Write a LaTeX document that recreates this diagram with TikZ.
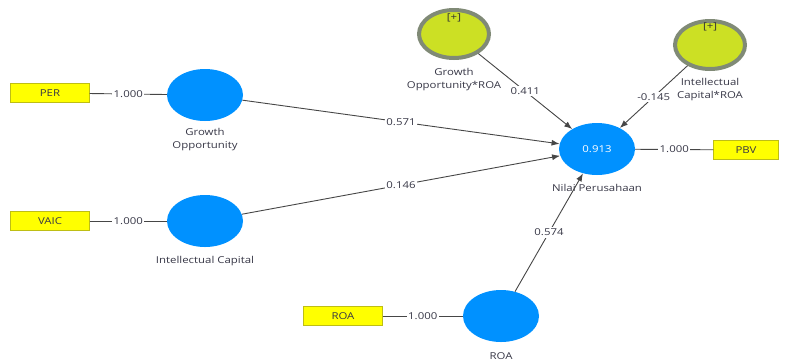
\documentclass[tikz,border=0pt]{standalone}
\usepackage{fontspec}
\setmainfont[FakeStretch=1.2]{Open Sans}
\usetikzlibrary{positioning}
\usetikzlibrary{arrows.meta}
\usetikzlibrary{shapes.geometric}

\definecolor{latentblue}{RGB}{0,145,255}
\definecolor{indyellow}{RGB}{255,255,0}
\definecolor{indborder}{RGB}{190,190,20}
\definecolor{modfill}{RGB}{204,224,36}
\definecolor{modborder}{RGB}{128,138,118}
\definecolor{linegray}{RGB}{70,70,70}
\definecolor{textgray}{RGB}{55,55,70}

\tikzset{
  latent/.style={ellipse,fill=latentblue,minimum width=76pt,minimum height=52pt,inner sep=0pt},
  moderator/.style={ellipse,fill=modfill,draw=modborder,line width=4pt,minimum width=70pt,minimum height=48pt,inner sep=0pt},
  indicator/.style={rectangle,fill=indyellow,draw=indborder,minimum width=79pt,minimum height=19pt,inner sep=0pt,text=textgray},
  caption/.style={align=center,text=textgray,inner sep=0pt},
  coef/.style={fill=white,inner sep=1.5pt,text=textgray},
  loadline/.style={draw=linegray,line width=0.9pt},
  pathline/.style={draw=linegray,line width=0.9pt,->}
}

\begin{document}
\begin{tikzpicture}[x=1pt,y=-1pt,>={Latex[length=8pt,width=6pt]},
    every node/.style={font=\fontsize{9.5}{13}\selectfont}]
  \useasboundingbox (0,0) rectangle (786,360);

  % indicators
  \node[indicator] (PER) at (50,93) {PER};
  \node[indicator] (VAIC) at (50,221) {VAIC};
  \node[indicator] (ROAi) at (343,316) {ROA};
  \node[indicator,minimum width=65pt] (PBV) at (746,150) {PBV};

  % latent variables
  \node[latent] (GO) at (205,95) {};
  \node[latent] (IC) at (205,221) {};
  \node[latent] (ROA) at (501,316) {};
  \node[latent,text=white] (NP) at (597,149) {0.913};
  \node[moderator] (GOR) at (454,34) {};
  \node[moderator] (ICR) at (710,45) {};
  \node[text=black!80,inner sep=0pt] (GORplus) at ([yshift=-10pt]GOR.north) {[+]};
  \node[text=black!80,inner sep=0pt] (ICRplus) at ([yshift=-8pt]ICR.north) {[+]};

  % captions
  \node[caption,below=7pt of GO] (GOcap) {Growth\\Opportunity};
  \node[caption,below=9pt of IC] (ICcap) {Intellectual Capital};
  \node[caption,below=9pt of NP] (NPcap) {Nilai Perusahaan};
  \node[caption,below=10pt of ROA] (ROAcap) {ROA};
  \node[caption,below=8pt of GOR] (GORcap) {Growth\\Opportunity*ROA};
  \node[caption,below=7pt of ICR] (ICRcap) {Intellectual\\Capital*ROA};

  % outer loadings
  \draw[loadline] (PER) -- node[coef] {1.000} (GO);
  \draw[loadline] (VAIC) -- node[coef] {1.000} (IC);
  \draw[loadline] (ROAi) -- node[coef] {1.000} (ROA);
  \draw[loadline] (NP) -- node[coef] {1.000} (PBV);

  % path coefficients
  \draw[pathline] (GO) -- node[coef] {0.571} (NP);
  \draw[pathline] (IC) -- node[coef] {0.146} (NP);
  \draw[pathline] (GOR) -- node[coef] {0.411} (NP);
  \draw[pathline] (ICR) -- node[coef] {-0.145} (NP);
  \draw[pathline] (ROA) -- node[coef] {0.574} (NP);
\end{tikzpicture}
\end{document}
